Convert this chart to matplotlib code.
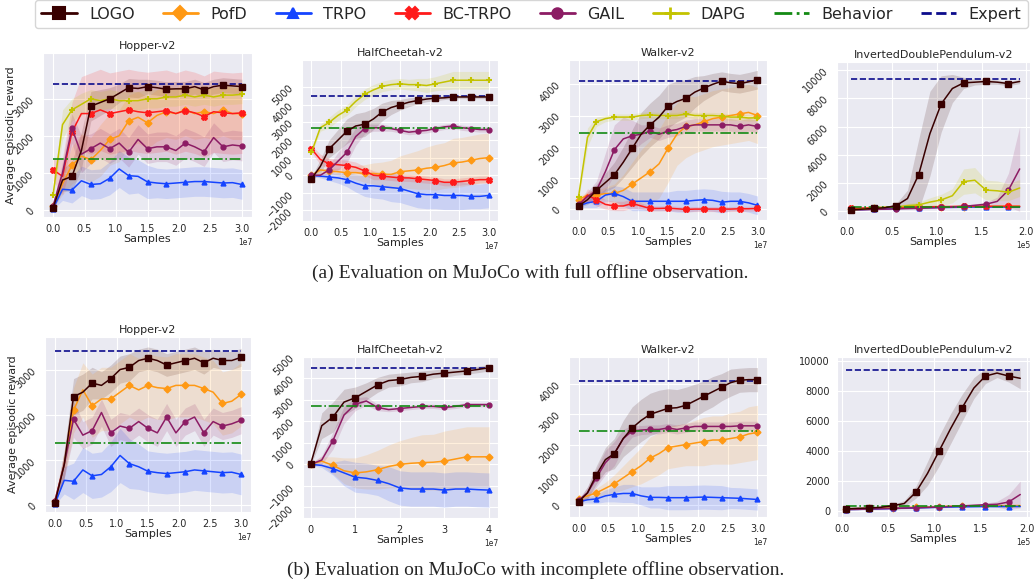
import matplotlib
matplotlib.use("Agg")
import matplotlib.pyplot as plt
from matplotlib.lines import Line2D
import seaborn as sns
import numpy as np

# === Sample grids (x in units of the offset: 1e7 or 1e5) ===
X30 = [0.0, 0.15, 0.3, 0.45, 0.6, 0.75, 0.9, 1.05, 1.2, 1.35, 1.5,
       1.65, 1.8, 1.95, 2.1, 2.25, 2.4, 2.55, 2.7, 2.85, 3.0]
X40 = [0.0, 0.25, 0.5, 0.75, 1.0, 1.25, 1.5, 1.75, 2.0, 2.25, 2.5,
       2.75, 3.0, 3.25, 3.5, 3.75, 4.0]
XIDP = [0.05, 0.175, 0.3, 0.425, 0.55, 0.675, 0.8, 0.925, 1.05, 1.175,
        1.3, 1.425, 1.55, 1.675, 1.8, 1.925]

# === (a) Hopper, full observation ===
A_HOP_LOGO = [50, 800, 900, 1600, 2800, 2900, 3000, 3150, 3300, 3280, 3330, 3300, 3260, 3270, 3270, 3330, 3240, 3330, 3370, 3350, 3330]
A_HOP_LOGO_SD = [50, 300, 400, 500, 400, 350, 300, 250, 250, 250, 200, 200, 200, 200, 200, 200, 200, 200, 200, 200, 200]
A_HOP_POFD = [100, 700, 1200, 1450, 1350, 1600, 1900, 2000, 2400, 2500, 2350, 2550, 2650, 2600, 2700, 2600, 2650, 2600, 2700, 2600, 2600]
A_HOP_POFD_SD = [50, 300, 500, 600, 600, 700, 700, 700, 700, 700, 700, 700, 700, 700, 700, 700, 700, 700, 700, 700, 700]
A_HOP_TRPO = [30, 550, 530, 780, 680, 700, 850, 1100, 920, 900, 750, 720, 700, 720, 740, 760, 760, 740, 720, 730, 680]
A_HOP_TRPO_SD = [20, 300, 350, 400, 400, 400, 450, 500, 500, 450, 450, 400, 400, 400, 400, 400, 400, 400, 400, 400, 400]
A_HOP_BC = [1080, 900, 2100, 2600, 2600, 2700, 2600, 2650, 2700, 2650, 2620, 2650, 2680, 2600, 2680, 2620, 2520, 2650, 2620, 2600, 2620]
A_HOP_BC_SD = [300, 500, 800, 1000, 1100, 1100, 1100, 1100, 1100, 1100, 1100, 1100, 1100, 1100, 1100, 1100, 1100, 1100, 1100, 1100, 1100]
A_HOP_GAIL = [100, 1000, 2200, 1500, 1650, 1800, 1650, 1800, 1550, 1900, 1650, 1700, 1700, 1600, 1800, 1700, 1570, 1950, 1700, 1750, 1720]
A_HOP_GAIL_SD = [50, 300, 400, 500, 400, 400, 400, 400, 400, 400, 400, 400, 400, 400, 400, 400, 400, 400, 400, 400, 400]
A_HOP_DAPG = [400, 2300, 2700, 2850, 3000, 2950, 3000, 2950, 2950, 2950, 3000, 3000, 3050, 3050, 3100, 3050, 3100, 3050, 3100, 3100, 3120]
A_HOP_DAPG_SD = [100, 400, 300, 300, 250, 250, 250, 250, 250, 250, 250, 250, 250, 250, 250, 250, 250, 250, 250, 250, 250]

# === (a) HalfCheetah, full observation ===
A_HC_LOGO = [-200, 500, 1500, 2000, 2500, 2800, 2900, 3200, 3600, 3850, 4000, 4150, 4250, 4330, 4380, 4400, 4450, 4450, 4450, 4450, 4450]
A_HC_LOGO_SD = [100, 400, 500, 600, 700, 700, 700, 600, 500, 400, 300, 250, 200, 150, 150, 100, 100, 100, 100, 100, 100]
A_HC_POFD = [0, 300, 250, 200, 150, 150, 100, 100, 50, 50, 200, 250, 300, 400, 450, 550, 700, 750, 850, 950, 1000]
A_HC_POFD_SD = [50, 100, 150, 200, 300, 400, 500, 600, 700, 800, 900, 1000, 1100, 1200, 1300, 1300, 1400, 1400, 1400, 1400, 1400]
A_HC_TRPO = [0, -50, -100, -150, -250, -450, -600, -600, -650, -700, -750, -900, -1050, -1100, -1100, -1150, -1150, -1150, -1200, -1200, -1150]
A_HC_TRPO_SD = [50, 100, 200, 300, 400, 500, 600, 700, 700, 800, 800, 800, 800, 800, 800, 800, 800, 800, 700, 700, 700]
A_HC_BC = [1500, 900, 650, 600, 550, 450, 250, 0, -50, -100, -150, -150, -200, -250, -300, -400, -400, -350, -300, -250, -250]
A_HC_BC_SD = [200, 300, 300, 300, 300, 300, 250, 250, 200, 200, 200, 200, 200, 200, 200, 200, 200, 200, 200, 200, 200]
A_HC_GAIL = [0, 0, 300, 800, 1300, 2200, 2650, 2700, 2700, 2650, 2550, 2450, 2500, 2550, 2650, 2750, 2800, 2700, 2650, 2600, 2600]
A_HC_GAIL_SD = [50, 100, 300, 500, 600, 500, 300, 200, 200, 150, 150, 150, 150, 150, 150, 150, 150, 150, 150, 150, 150]
A_HC_DAPG = [1300, 2700, 3000, 3400, 3700, 4200, 4600, 4850, 5050, 5150, 5200, 5150, 5150, 5100, 5200, 5300, 5400, 5400, 5400, 5400, 5400]
A_HC_DAPG_SD = [100, 200, 300, 300, 300, 300, 300, 300, 300, 300, 300, 300, 350, 400, 400, 450, 500, 500, 500, 500, 500]

# === (a) Walker, full observation ===
A_WK_LOGO = [100, 300, 600, 850, 1100, 1500, 1950, 2400, 2700, 2950, 3300, 3450, 3550, 3750, 3880, 4000, 4100, 4050, 4020, 4080, 4150]
A_WK_LOGO_SD = [50, 150, 200, 300, 400, 500, 600, 700, 700, 700, 700, 650, 600, 500, 400, 350, 300, 300, 300, 300, 300]
A_WK_POFD = [300, 450, 450, 500, 500, 600, 800, 1000, 1200, 1450, 1950, 2400, 2650, 2700, 2800, 2900, 2950, 3000, 3050, 3100, 3000]
A_WK_POFD_SD = [100, 100, 150, 200, 300, 500, 700, 900, 1000, 1100, 1100, 1000, 1000, 900, 900, 900, 900, 900, 900, 900, 900]
A_WK_TRPO = [100, 200, 250, 450, 500, 400, 250, 250, 250, 250, 250, 250, 250, 280, 300, 280, 220, 250, 250, 200, 120]
A_WK_TRPO_SD = [50, 150, 200, 200, 250, 300, 300, 300, 300, 300, 300, 350, 350, 350, 350, 350, 350, 300, 300, 300, 300]
A_WK_BC = [100, 450, 300, 150, 100, 100, 180, 100, 20, 20, 30, 10, -10, 0, 0, 0, 0, 0, 10, 10, 20]
A_WK_BC_SD = [50, 200, 200, 150, 150, 150, 150, 100, 80, 80, 80, 80, 80, 80, 80, 80, 80, 80, 80, 80, 80]
A_WK_GAIL = [150, 400, 600, 1200, 1900, 2250, 2350, 2400, 2500, 2400, 2500, 2550, 2650, 2700, 2700, 2700, 2700, 2700, 2650, 2700, 2650]
A_WK_GAIL_SD = [50, 150, 300, 600, 800, 700, 500, 300, 200, 200, 200, 200, 200, 200, 200, 200, 200, 200, 200, 200, 200]
A_WK_DAPG = [400, 2300, 2800, 2900, 2950, 2950, 2950, 3000, 3020, 3000, 3000, 3000, 3050, 3000, 3000, 3000, 2980, 2950, 2950, 2920, 2930]
A_WK_DAPG_SD = [100, 300, 150, 100, 100, 100, 100, 100, 100, 100, 100, 100, 100, 100, 100, 100, 100, 100, 100, 100, 100]

# === (a) InvertedDoublePendulum, full observation ===
A_IDP_LOGO = [100, 150, 200, 250, 400, 900, 2600, 5500, 7600, 8700, 9100, 9150, 9200, 9150, 9050, 9200]
A_IDP_LOGO_SD = [20, 30, 50, 80, 150, 600, 2500, 3000, 2000, 1000, 400, 200, 200, 150, 150, 150]
A_IDP_POFD = [150, 170, 200, 220, 250, 270, 290, 300, 310, 320, 330, 340, 340, 350, 350, 350]
A_IDP_POFD_SD = [20, 20, 20, 30, 30, 30, 30, 40, 40, 40, 40, 40, 40, 40, 40, 40]
A_IDP_TRPO = [100, 120, 150, 170, 200, 220, 240, 260, 270, 280, 290, 300, 300, 300, 300, 300]
A_IDP_TRPO_SD = [20, 20, 20, 30, 30, 30, 30, 40, 40, 40, 40, 40, 40, 40, 40, 40]
A_IDP_BC = [200, 230, 250, 270, 290, 300, 310, 320, 330, 340, 350, 350, 350, 350, 350, 350]
A_IDP_BC_SD = [20, 20, 20, 30, 30, 30, 30, 40, 40, 40, 40, 40, 40, 40, 40, 40]
A_IDP_GAIL = [100, 110, 130, 150, 170, 190, 210, 240, 270, 300, 350, 420, 500, 700, 1500, 3000]
A_IDP_GAIL_SD = [20, 20, 30, 30, 30, 40, 40, 50, 50, 60, 80, 100, 150, 300, 1200, 3000]
A_IDP_DAPG = [100, 150, 250, 280, 300, 400, 450, 650, 800, 1100, 2100, 2200, 1500, 1450, 1350, 1650]
A_IDP_DAPG_SD = [20, 30, 50, 80, 100, 150, 200, 300, 400, 500, 900, 900, 700, 700, 600, 600]

# === (b) Hopper, incomplete observation ===
B_HOP_LOGO = [50, 900, 2400, 2500, 2700, 2650, 2800, 3000, 3050, 3200, 3250, 3200, 3100, 3150, 3200, 3250, 3150, 3250, 3200, 3200, 3270]
B_HOP_LOGO_SD = [50, 300, 400, 400, 350, 300, 300, 300, 300, 250, 250, 250, 250, 250, 250, 250, 250, 200, 200, 200, 200]
B_HOP_POFD = [100, 900, 2100, 2550, 2200, 2350, 2350, 2500, 2650, 2550, 2650, 2600, 2580, 2650, 2650, 2650, 2580, 2500, 2250, 2300, 2450]
B_HOP_POFD_SD = [50, 300, 500, 600, 700, 700, 700, 700, 700, 700, 700, 700, 700, 700, 700, 700, 700, 700, 700, 700, 700]
B_HOP_TRPO = [30, 550, 530, 780, 650, 680, 850, 1100, 920, 850, 750, 720, 700, 720, 740, 780, 760, 740, 720, 730, 680]
B_HOP_TRPO_SD = [20, 300, 400, 500, 500, 500, 550, 600, 550, 500, 450, 450, 450, 450, 450, 450, 450, 450, 450, 450, 450]
B_HOP_GAIL = [100, 900, 1900, 1550, 1650, 2050, 1600, 1750, 1700, 1850, 1700, 1600, 1950, 1600, 1850, 1950, 1600, 1850, 1750, 1800, 1880]
B_HOP_GAIL_SD = [50, 300, 400, 300, 300, 300, 300, 300, 300, 300, 300, 300, 300, 300, 300, 300, 300, 300, 300, 300, 300]

# === (b) HalfCheetah, incomplete observation ===
B_HC_LOGO = [0, 1800, 2200, 2900, 3100, 3400, 3700, 3900, 3950, 4050, 4100, 4200, 4250, 4300, 4350, 4420, 4500]
B_HC_LOGO_SD = [50, 600, 700, 600, 500, 400, 350, 300, 300, 250, 250, 200, 200, 150, 150, 150, 150]
B_HC_POFD = [0, 150, -50, -300, -400, -350, -250, -100, 0, 50, 80, 100, 150, 250, 350, 350, 350]
B_HC_POFD_SD = [50, 200, 400, 600, 700, 800, 900, 1000, 1100, 1200, 1300, 1300, 1400, 1400, 1400, 1400, 1400]
B_HC_TRPO = [0, -50, -200, -400, -600, -650, -750, -900, -1100, -1150, -1150, -1150, -1200, -1150, -1150, -1180, -1200]
B_HC_TRPO_SD = [50, 100, 300, 600, 700, 700, 700, 800, 800, 800, 800, 800, 800, 800, 800, 800, 800]
B_HC_GAIL = [0, 200, 1100, 2300, 2800, 2950, 2650, 2550, 2600, 2650, 2700, 2700, 2650, 2700, 2780, 2780, 2780]
B_HC_GAIL_SD = [50, 200, 400, 400, 300, 200, 150, 100, 100, 100, 100, 100, 100, 100, 100, 100, 100]

# === (b) Walker, incomplete observation ===
B_WK_LOGO = [100, 400, 1000, 1500, 1700, 2200, 2550, 2800, 3000, 3100, 3200, 3220, 3300, 3450, 3600, 3750, 3900, 4050, 4130, 4150, 4150]
B_WK_LOGO_SD = [50, 200, 300, 400, 500, 600, 700, 700, 700, 700, 650, 600, 600, 550, 500, 500, 450, 450, 400, 400, 400]
B_WK_POFD = [200, 300, 400, 550, 700, 900, 1100, 1300, 1550, 1700, 1900, 1950, 2000, 2050, 2100, 2150, 2150, 2200, 2250, 2350, 2400]
B_WK_POFD_SD = [50, 100, 150, 200, 300, 400, 500, 600, 700, 700, 700, 700, 700, 750, 800, 800, 800, 850, 850, 900, 900]
B_WK_TRPO = [100, 170, 200, 300, 350, 380, 380, 300, 250, 250, 240, 240, 240, 250, 260, 250, 240, 230, 220, 200, 180]
B_WK_TRPO_SD = [50, 100, 150, 200, 250, 300, 300, 300, 350, 350, 400, 400, 400, 400, 400, 400, 400, 350, 350, 350, 350]
B_WK_GAIL = [150, 400, 900, 1400, 1700, 2200, 2450, 2480, 2500, 2500, 2550, 2500, 2550, 2600, 2600, 2600, 2600, 2600, 2620, 2620, 2620]
B_WK_GAIL_SD = [50, 200, 300, 400, 400, 300, 200, 150, 150, 150, 150, 150, 150, 150, 150, 150, 150, 150, 150, 150, 150]

# === (b) InvertedDoublePendulum, incomplete observation ===
B_IDP_LOGO = [150, 180, 200, 250, 350, 500, 1250, 2500, 4000, 5500, 6900, 8200, 9000, 9200, 9000, 8850]
B_IDP_LOGO_SD = [20, 20, 30, 50, 80, 200, 400, 800, 1000, 1000, 900, 700, 500, 300, 400, 700]
B_IDP_POFD = [150, 160, 180, 200, 220, 240, 260, 280, 300, 320, 340, 350, 350, 360, 360, 360]
B_IDP_POFD_SD = [20, 20, 20, 30, 30, 30, 30, 40, 40, 40, 40, 40, 40, 40, 40, 40]
B_IDP_TRPO = [100, 110, 130, 150, 170, 190, 210, 230, 250, 270, 280, 290, 300, 300, 300, 300]
B_IDP_TRPO_SD = [20, 20, 20, 30, 30, 30, 30, 40, 40, 40, 40, 40, 40, 40, 40, 40]
B_IDP_GAIL = [100, 110, 130, 150, 170, 190, 210, 240, 270, 300, 340, 380, 420, 450, 600, 1100]
B_IDP_GAIL_SD = [20, 20, 20, 30, 30, 30, 30, 40, 40, 50, 60, 80, 100, 200, 500, 900]

# === Reference levels (Behavior, Expert) ===
HOP_BEHAVIOR, HOP_EXPERT = 1370, 3400
HC_BEHAVIOR, HC_EXPERT = 2700, 4500
WK_BEHAVIOR, WK_EXPERT = 2450, 4120
IDP_BEHAVIOR, IDP_EXPERT = 320, 9380

# === Styles ===
STYLE = {
    "LOGO":    dict(color="#380000", marker="s", ms=4.5, mew=1),
    "PofD":    dict(color="#ff9914", marker="D", ms=3.5, mew=1),
    "TRPO":    dict(color="#1544ff", marker="^", ms=3.5, mew=1),
    "BC-TRPO": dict(color="#ff1a1a", marker="X", ms=4, mew=1),
    "GAIL":    dict(color="#8c1c64", marker="o", ms=3.5, mew=1),
    "DAPG":    dict(color="#c3c300", marker="+", ms=5, mew=1.5),
}
BEHAVIOR_COLOR = "#138a13"
EXPERT_COLOR = "#0c0c8c"

sns.set_style("darkgrid")
plt.rcParams["font.family"] = ["DejaVu Sans"]
plt.rcParams["axes.labelcolor"] = ".15"
plt.rcParams["xtick.color"] = ".15"
plt.rcParams["ytick.color"] = ".15"

fig = plt.figure(figsize=(10.35, 5.83), dpi=100)

# axes boxes in pixels: left, top, right, bottom
BOXES = [
    (43, 53, 252, 217), (302, 60, 498, 221), (569, 60, 767, 220), (837, 62, 1030, 220),
    (45, 337, 251, 512), (303, 357, 498, 518), (569, 357, 767, 517), (837, 357, 1030, 517),
]

PANELS = [
    ("Hopper-v2", X30, 1e7, [("LOGO", A_HOP_LOGO, A_HOP_LOGO_SD), ("PofD", A_HOP_POFD, A_HOP_POFD_SD),
                              ("TRPO", A_HOP_TRPO, A_HOP_TRPO_SD), ("BC-TRPO", A_HOP_BC, A_HOP_BC_SD),
                              ("GAIL", A_HOP_GAIL, A_HOP_GAIL_SD), ("DAPG", A_HOP_DAPG, A_HOP_DAPG_SD)],
     HOP_BEHAVIOR, HOP_EXPERT, (-200, 4240), [0, 1000, 2000, 3000], [0, 0.5, 1, 1.5, 2, 2.5, 3], (-0.16, 3.16), 45),
    ("HalfCheetah-v2", X30, 1e7, [("LOGO", A_HC_LOGO, A_HC_LOGO_SD), ("PofD", A_HC_POFD, A_HC_POFD_SD),
                                   ("TRPO", A_HC_TRPO, A_HC_TRPO_SD), ("BC-TRPO", A_HC_BC, A_HC_BC_SD),
                                   ("GAIL", A_HC_GAIL, A_HC_GAIL_SD), ("DAPG", A_HC_DAPG, A_HC_DAPG_SD)],
     HC_BEHAVIOR, HC_EXPERT, (-2600, 6550), [-2000, -1000, 0, 1000, 2000, 3000, 4000, 5000],
     [0, 0.5, 1, 1.5, 2, 2.5, 3], (-0.16, 3.16), 45),
    ("Walker-v2", X30, 1e7, [("LOGO", A_WK_LOGO, A_WK_LOGO_SD), ("PofD", A_WK_POFD, A_WK_POFD_SD),
                              ("TRPO", A_WK_TRPO, A_WK_TRPO_SD), ("BC-TRPO", A_WK_BC, A_WK_BC_SD),
                              ("GAIL", A_WK_GAIL, A_WK_GAIL_SD), ("DAPG", A_WK_DAPG, A_WK_DAPG_SD)],
     WK_BEHAVIOR, WK_EXPERT, (-350, 4780), [0, 1000, 2000, 3000, 4000], [0, 0.5, 1, 1.5, 2, 2.5, 3], (-0.16, 3.16), 45),
    ("InvertedDoublePendulum-v2", XIDP, 1e5, [("LOGO", A_IDP_LOGO, A_IDP_LOGO_SD), ("PofD", A_IDP_POFD, A_IDP_POFD_SD),
                                             ("TRPO", A_IDP_TRPO, A_IDP_TRPO_SD), ("BC-TRPO", A_IDP_BC, A_IDP_BC_SD),
                                             ("GAIL", A_IDP_GAIL, A_IDP_GAIL_SD), ("DAPG", A_IDP_DAPG, A_IDP_DAPG_SD)],
     IDP_BEHAVIOR, IDP_EXPERT, (-620, 10580), [0, 2000, 4000, 6000, 8000, 10000], [0, 0.5, 1, 1.5, 2], (-0.11, 2.04), 45),
    ("Hopper-v2", X30, 1e7, [("LOGO", B_HOP_LOGO, B_HOP_LOGO_SD), ("PofD", B_HOP_POFD, B_HOP_POFD_SD),
                              ("TRPO", B_HOP_TRPO, B_HOP_TRPO_SD), ("GAIL", B_HOP_GAIL, B_HOP_GAIL_SD)],
     HOP_BEHAVIOR, HOP_EXPERT, (-150, 3720), [0, 1000, 2000, 3000], [0, 0.5, 1, 1.5, 2, 2.5, 3], (-0.16, 3.16), 45),
    ("HalfCheetah-v2", X40, 1e7, [("LOGO", B_HC_LOGO, B_HC_LOGO_SD), ("PofD", B_HC_POFD, B_HC_POFD_SD),
                                   ("TRPO", B_HC_TRPO, B_HC_TRPO_SD), ("GAIL", B_HC_GAIL, B_HC_GAIL_SD)],
     HC_BEHAVIOR, HC_EXPERT, (-2500, 4980), [-2000, -1000, 0, 1000, 2000, 3000, 4000, 5000],
     [0, 1, 2, 3, 4], (-0.17, 4.2), 45),
    ("Walker-v2", X30, 1e7, [("LOGO", B_WK_LOGO, B_WK_LOGO_SD), ("PofD", B_WK_POFD, B_WK_POFD_SD),
                              ("TRPO", B_WK_TRPO, B_WK_TRPO_SD), ("GAIL", B_WK_GAIL, B_WK_GAIL_SD)],
     WK_BEHAVIOR, WK_EXPERT, (-400, 4900), [0, 1000, 2000, 3000, 4000], [0, 0.5, 1, 1.5, 2, 2.5, 3], (-0.16, 3.16), 45),
    ("InvertedDoublePendulum-v2", XIDP, 1e5, [("LOGO", B_IDP_LOGO, B_IDP_LOGO_SD), ("PofD", B_IDP_POFD, B_IDP_POFD_SD),
                                             ("TRPO", B_IDP_TRPO, B_IDP_TRPO_SD), ("GAIL", B_IDP_GAIL, B_IDP_GAIL_SD)],
     IDP_BEHAVIOR, IDP_EXPERT, (-400, 10270), [0, 2000, 4000, 6000, 8000, 10000], [0, 0.5, 1, 1.5, 2], (-0.05, 2.03), 0),
]

W, H = 1035, 583
for i, (box, panel) in enumerate(zip(BOXES, PANELS)):
    title, xs, scale, curves, behavior, expert, ylim, yticks, xticks, xlim, yrot = panel
    l, t, r, b = box
    ax = fig.add_axes([l / W, 1 - b / H, (r - l) / W, (b - t) / H])
    x = np.array(xs) * scale

    for name, mean, sd in curves:
        st = STYLE[name]
        mean = np.array(mean, dtype=float)
        sd = np.array(sd, dtype=float)
        ax.fill_between(x, mean - sd, mean + sd, color=st["color"], alpha=0.15, lw=0)
        ax.plot(x, mean, color=st["color"], lw=1.1, marker=st["marker"], ms=st["ms"],
                mew=st["mew"], markevery=2, zorder=5 if name == "LOGO" else 3)

    ax.plot([x[0], x[-1]], [behavior, behavior], color=BEHAVIOR_COLOR, ls="-.", lw=1.2, zorder=4)
    ax.plot([x[0], x[-1]], [expert, expert], color=EXPERT_COLOR, ls="--", lw=1.2, zorder=4)

    ax.set_xlim(xlim[0] * scale, xlim[1] * scale)
    ax.set_ylim(*ylim)
    ax.set_yticks(yticks)
    ax.set_xticks(np.array(xticks) * scale)
    ax.ticklabel_format(axis="x", style="sci", scilimits=(0, 0))
    ax.tick_params(axis="both", labelsize=7, pad=1.5)
    ax.tick_params(axis="y", labelrotation=yrot)
    ax.xaxis.get_offset_text().set_fontsize(5.5)
    ax.set_title(title, fontsize=8, color=".15", pad=3)
    ax.set_xlabel("Samples", fontsize=8, labelpad=0)
    if i in (0, 4):
        ax.set_ylabel("Average episodic reward", fontsize=8)
        ax.yaxis.set_label_coords(-0.13, 0.5)

# === Legend ===
handles = []
labels = ["LOGO", "PofD", "TRPO", "BC-TRPO", "GAIL", "DAPG"]
for name in labels:
    st = STYLE[name]
    handles.append(Line2D([], [], color=st["color"], lw=2, marker=st["marker"],
                          ms=st["ms"] + 4, mew=st["mew"] + 0.5))
handles.append(Line2D([], [], color=BEHAVIOR_COLOR, lw=2, ls="-."))
handles.append(Line2D([], [], color=EXPERT_COLOR, lw=2, ls="--"))
labels += ["Behavior", "Expert"]
fig.legend(handles, labels, loc="lower left", ncol=8, mode="expand", fontsize=11.5,
           bbox_to_anchor=(35 / W, 1 - 28 / H, 993 / W, 26 / H), frameon=True,
           handlelength=2.2, borderaxespad=0, facecolor="white", edgecolor="#cccccc")

# === Captions ===
fig.text(530 / W, 1 - 273 / H, "(a) Evaluation on MuJoCo with full offline observation.",
         ha="center", va="center", fontsize=14, family="Liberation Serif")
fig.text(536 / W, 1 - 570 / H, "(b) Evaluation on MuJoCo with incomplete offline observation.",
         ha="center", va="center", fontsize=14, family="Liberation Serif")

fig.savefig("out.png", dpi=100)
